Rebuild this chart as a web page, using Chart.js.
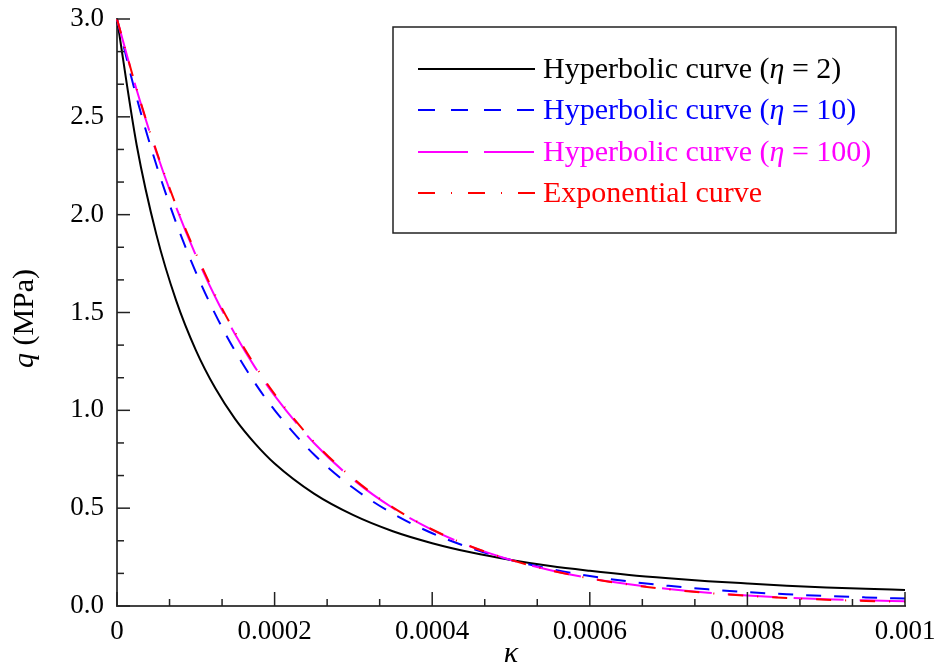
<!DOCTYPE html>
<html>
<head>
<meta charset="utf-8">
<script src="https://cdn.jsdelivr.net/npm/chart.js@4"></script>
<style>
  html, body { margin: 0; padding: 0; background: #fff; }
  #wrap { width: 940px; height: 668px; }
</style>
</head>
<body>
<div id="wrap"><canvas id="myChart"></canvas></div>
<script>
'use strict';

// kappa values (x)
var kappa = [0, 0.000025, 0.00005, 0.000075, 0.0001, 0.000125, 0.00015, 0.000175, 0.0002,
  0.00025, 0.0003, 0.00035, 0.0004, 0.00045, 0.0005, 0.00055, 0.0006, 0.00065, 0.0007,
  0.00075, 0.0008, 0.00085, 0.0009, 0.00095, 0.001];

// q (MPa)
var hyper2 = [3.0, 2.355, 1.898, 1.562, 1.308, 1.111, 0.955, 0.831, 0.728,
  0.574, 0.464, 0.382, 0.321, 0.273, 0.235, 0.204, 0.180, 0.159, 0.142,
  0.127, 0.115, 0.104, 0.095, 0.088, 0.082];
var hyper10 = [3.0, 2.597, 2.254, 1.959, 1.706, 1.489, 1.302, 1.140, 1.001,
  0.774, 0.603, 0.472, 0.372, 0.295, 0.235, 0.189, 0.153, 0.125, 0.103,
  0.085, 0.071, 0.060, 0.051, 0.044, 0.038];
var hyper100 = [3.0, 2.637, 2.319, 2.039, 1.793, 1.577, 1.388, 1.221, 1.075,
  0.833, 0.646, 0.501, 0.389, 0.302, 0.235, 0.183, 0.142, 0.111, 0.087,
  0.068, 0.054, 0.043, 0.035, 0.029, 0.024];
var expo = [3.0, 2.641, 2.325, 2.047, 1.803, 1.587, 1.397, 1.230, 1.083,
  0.839, 0.651, 0.504, 0.391, 0.303, 0.235, 0.182, 0.141, 0.109, 0.085,
  0.066, 0.052, 0.041, 0.032, 0.026, 0.021];

var xTicks = [0, 0.0002, 0.0004, 0.0006, 0.0008, 0.001];
var xTickLabels = ['0', '0.0002', '0.0004', '0.0006', '0.0008', '0.001'];
var yTicks = [0, 0.5, 1.0, 1.5, 2.0, 2.5, 3.0];
var yTickLabels = ['0.0', '0.5', '1.0', '1.5', '2.0', '2.5', '3.0'];

var legendNames = [
  ['Hyperbolic curve (', 'η', ' = 2)'],
  ['Hyperbolic curve (', 'η', ' = 10)'],
  ['Hyperbolic curve (', 'η', ' = 100)'],
  ['Exponential curve', '', '']
];

var SERIF = "'Liberation Serif', 'DejaVu Serif', serif";
var colors = ['#000000', '#0000ff', '#ff00ff', '#ff0000'];
var dashes = [[], [15, 13], [50, 16], [15, 14, 1, 14]];
var legendDashes = [[], [17, 16], [50, 16], [17, 16, 1, 16]];
var series = [hyper2, hyper10, hyper100, expo];

function toPoints(ys) {
  var pts = [];
  for (var i = 0; i < kappa.length; i++) {
    pts.push({x: kappa[i], y: ys[i]});
  }
  return pts;
}

var datasets = [];
for (var s = 0; s < series.length; s++) {
  datasets.push({
    label: legendNames[s].join(''),
    data: toPoints(series[s]),
    borderColor: colors[s],
    borderWidth: 2,
    borderDash: dashes[s],
    pointRadius: 0,
    fill: false,
    cubicInterpolationMode: 'monotone',
    clip: 4,
    order: 3 - s
  });
}

// inward ticks, axis titles, legend box
var decorPlugin = {
  id: 'decor',
  afterDraw: function(chart) {
    var ctx = chart.ctx;
    var xs = chart.scales.x;
    var ys = chart.scales.y;
    var area = chart.chartArea;
    ctx.save();
    ctx.strokeStyle = '#222';
    ctx.lineWidth = 1.5;
    ctx.setLineDash([]);
    // x ticks: major every 0.0002, two minor between
    for (var i = 0; i <= 15; i++) {
      var px = xs.getPixelForValue(i * 0.001 / 15);
      var len = (i % 3 === 0) ? 14 : 7;
      ctx.beginPath();
      ctx.moveTo(px, area.bottom);
      ctx.lineTo(px, area.bottom - len);
      ctx.stroke();
    }
    for (var j = 0; j <= 18; j++) {
      var py = ys.getPixelForValue(j * 0.5 / 3);
      var len2 = (j % 3 === 0) ? 13 : 7;
      ctx.beginPath();
      ctx.moveTo(area.left, py);
      ctx.lineTo(area.left + len2, py);
      ctx.stroke();
    }

    // axis titles
    ctx.fillStyle = '#000';
    ctx.textBaseline = 'middle';
    ctx.textAlign = 'center';
    ctx.font = 'italic 30px ' + SERIF;
    ctx.fillText('κ', (area.left + area.right) / 2, 654);

    ctx.save();
    ctx.translate(25, (area.top + area.bottom) / 2 + 6);
    ctx.rotate(-Math.PI / 2);
    ctx.textAlign = 'left';
    ctx.font = 'italic 30px ' + SERIF;
    var w1 = ctx.measureText('q').width;
    ctx.font = '30px ' + SERIF;
    var w2 = ctx.measureText(' (MPa)').width;
    var start = -(w1 + w2) / 2;
    ctx.font = 'italic 30px ' + SERIF;
    ctx.fillText('q', start, 0);
    ctx.font = '30px ' + SERIF;
    ctx.fillText(' (MPa)', start + w1, 0);
    ctx.restore();

    // legend
    var bx = 393, by = 27, bw = 503, bh = 206;
    ctx.fillStyle = '#fff';
    ctx.fillRect(bx, by, bw, bh);
    ctx.strokeStyle = '#222';
    ctx.lineWidth = 1.5;
    ctx.strokeRect(bx, by, bw, bh);
    var rowY = [69, 110, 152, 193];
    for (var r = 0; r < legendNames.length; r++) {
      ctx.strokeStyle = colors[r];
      ctx.lineWidth = 2;
      ctx.setLineDash(legendDashes[r]);
      ctx.beginPath();
      ctx.moveTo(418, rowY[r]);
      ctx.lineTo(535, rowY[r]);
      ctx.stroke();
      ctx.setLineDash([]);
      ctx.fillStyle = colors[r];
      ctx.textAlign = 'left';
      var tx = 543;
      var parts = legendNames[r];
      for (var p = 0; p < parts.length; p++) {
        if (!parts[p]) continue;
        ctx.font = (p === 1 ? 'italic ' : '') + '30px ' + SERIF;
        ctx.fillText(parts[p], tx, rowY[r] + 1);
        tx += ctx.measureText(parts[p]).width;
      }
    }
    ctx.restore();
  }
};

var myChart = new Chart(document.getElementById('myChart').getContext('2d'), {
  type: 'line',
  data: { datasets: datasets },
  options: {
    responsive: true,
    maintainAspectRatio: false,
    animation: false,
    layout: { padding: { left: 0, right: 35, top: 19, bottom: 0 } },
    plugins: {
      legend: { display: false },
      tooltip: { enabled: false }
    },
    scales: {
      x: {
        type: 'linear',
        min: 0,
        max: 0.001,
        grid: { display: false, drawTicks: false },
        border: { display: true, color: '#444', width: 2 },
        afterBuildTicks: function(scale) {
          scale.ticks = xTicks.map(function(v) { return {value: v}; });
        },
        afterFit: function(scale) {
          scale.height = 62;
          scale.paddingLeft = 0;
          scale.paddingRight = 0;
        },
        ticks: {
          padding: 10,
          color: '#000',
          maxRotation: 0,
          font: { family: SERIF, size: 27 },
          callback: function(value, index) { return xTickLabels[index]; }
        }
      },
      y: {
        min: 0,
        max: 3.0,
        grid: { display: false, drawTicks: false },
        border: { display: true, color: '#444', width: 2 },
        afterBuildTicks: function(scale) {
          scale.ticks = yTicks.map(function(v) { return {value: v}; });
        },
        afterFit: function(scale) {
          scale.width = 117;
          scale.paddingTop = 0;
          scale.paddingBottom = 0;
        },
        ticks: {
          padding: 13,
          color: '#000',
          font: { family: SERIF, size: 27 },
          callback: function(value, index) { return yTickLabels[index]; }
        }
      }
    }
  },
  plugins: [decorPlugin]
});
</script>
</body>
</html>
